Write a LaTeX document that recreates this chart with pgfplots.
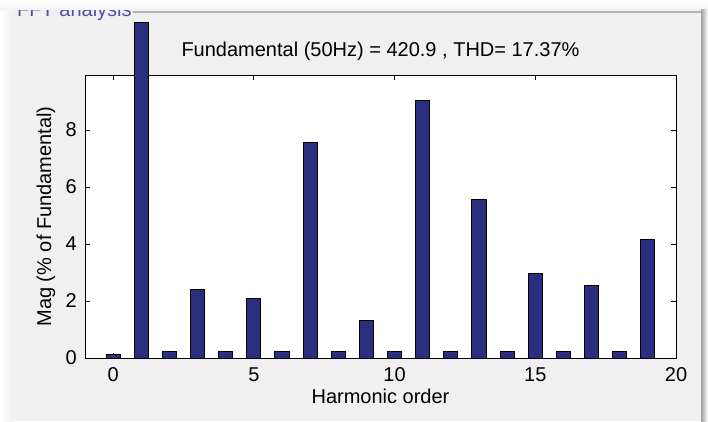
\documentclass[border=0pt]{standalone}
\usepackage{fontspec}
\setmainfont{Liberation Sans}
\usepackage{pgfplots}
\pgfplotsset{compat=1.18}
\definecolor{bg}{HTML}{F0F0F0}
\definecolor{barc}{RGB}{42,46,126}
\definecolor{paneltxt}{RGB}{80,80,170}
\pgfplotstableread{
h mag
0 0.14
1 11.77
2 0.22
3 2.40
4 0.22
5 2.10
6 0.22
7 7.55
8 0.22
9 1.30
10 0.22
11 9.05
12 0.22
13 5.55
14 0.22
15 2.95
16 0.22
17 2.55
18 0.22
19 4.15
}\fftdata
\begin{document}
\begin{tikzpicture}[x=1pt,y=1pt]
\fill[bg] (0,0) rectangle (708,421);
\shade[left color=white, right color=bg] (0,0) rectangle (12,411);
\node[anchor=base west, text=paneltxt, inner sep=0pt, font=\fontsize{20}{24}\selectfont] at (17,404) {FFT analysis};
\shade[top color=white, bottom color=bg!80!white] (0,411) rectangle (708,421);
\draw[gray!60, line width=2pt] (133,409) -- (702,409);
\shade[left color=gray!75, right color=white] (701,0) rectangle (708,411);
\begin{axis}[
  at={(85pt,63pt)}, anchor=south west,
  scale only axis, width=591pt, height=283pt,
  xmin=-1, xmax=20, ymin=0, ymax=9.93,
  clip=false,
  axis background/.style={fill=white},
  axis line style={black, line width=1pt},
  xtick={0,5,10,15,20}, ytick={0,2,4,6,8},
  tick align=inside, major tick length=5pt,
  tick style={black, line width=0.9pt},
  font=\fontsize{20}{24}\selectfont,
  /pgf/number format/assume math mode=true,
  xticklabel style={anchor=base, inner sep=0pt, yshift=-23pt},
  yticklabel style={anchor=east, inner sep=0pt, xshift=-8pt},
  title={Fundamental (50Hz) = 420.9 , THD= 17.37\%},
  title style={at={(axis description cs:0.5,1.0459)}, anchor=base, inner sep=0pt},
  xlabel={Harmonic order},
  every axis x label/.style={at={(axis description cs:0.5,-0.159)}, anchor=base, inner sep=0pt},
  ylabel={Mag (\% of Fundamental)},
  every axis y label/.style={at={(axis description cs:-0.0575,0.5)}, anchor=base, rotate=90, inner sep=0pt},
]
\addplot[ybar, bar width=0.5, fill=barc, draw=black, line width=1pt] table[x=h, y=mag] {\fftdata};
\end{axis}
\end{tikzpicture}
\end{document}
